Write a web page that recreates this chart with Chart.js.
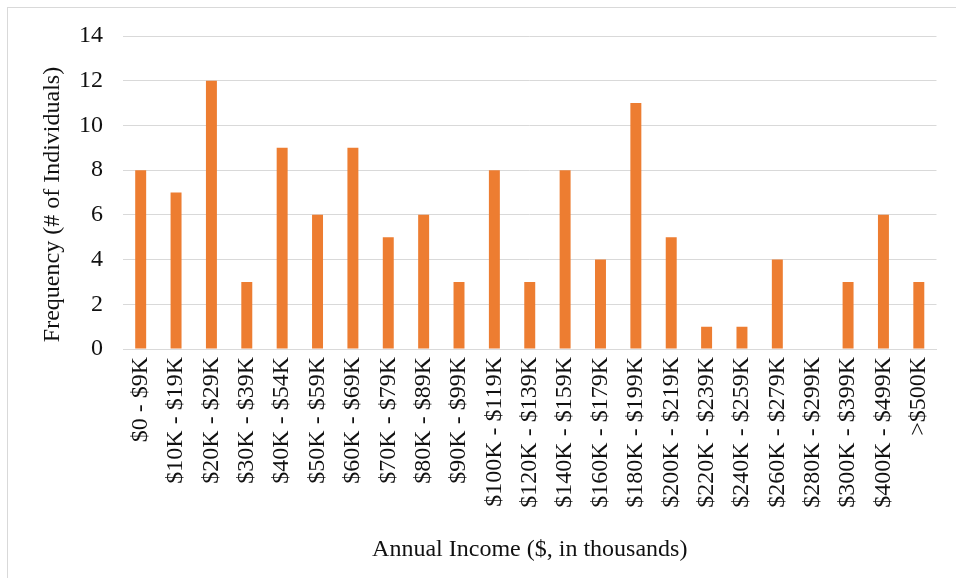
<!DOCTYPE html>
<html>
<head>
<meta charset="utf-8">
<script src="https://cdn.jsdelivr.net/npm/chart.js@4"></script>
<style>
  html, body { margin: 0; padding: 0; background: #fff; }
  #wrap { position: relative; width: 956px; height: 578px; overflow: hidden; }
  #frame { position: absolute; left: 7px; top: 7px; width: 960px; height: 600px; border: 1px solid #d9d9d9; box-sizing: border-box; }
  canvas { position: absolute; left: 0; top: 0; }
</style>
</head>
<body>
<div id="wrap">
  <div id="frame"></div>
  <canvas id="incomeChart" width="956" height="578"></canvas>
</div>
<script>
const incomeBrackets = [
  '$0 - $9K', '$10K - $19K', '$20K - $29K', '$30K - $39K', '$40K - $54K',
  '$50K - $59K', '$60K - $69K', '$70K - $79K', '$80K - $89K', '$90K - $99K',
  '$100K - $119K', '$120K - $139K', '$140K - $159K', '$160K - $179K', '$180K - $199K',
  '$200K - $219K', '$220K - $239K', '$240K - $259K', '$260K - $279K', '$280K - $299K',
  '$300K - $399K', '$400K - $499K', '>$500K'
];
const frequencies = [8, 7, 12, 3, 9, 6, 9, 5, 6, 3, 8, 3, 8, 4, 11, 5, 1, 1, 4, 0, 3, 6, 3];

const serif = '"Liberation Serif", "Times New Roman", serif';

new Chart(document.getElementById('incomeChart'), {
    type: 'bar',
    data: {
        labels: incomeBrackets,
        datasets: [{
            data: frequencies,
            backgroundColor: '#ed7d31',
            borderWidth: 0,
            barPercentage: 0.31,
            categoryPercentage: 1
        }]
    },
    options: {
        responsive: false,
        animation: false,
        layout: {
            padding: { top: 36, right: 18, left: 0, bottom: 0 }
        },
        plugins: {
            legend: { display: false },
            tooltip: { enabled: false }
        },
        scales: {
            x: {
                grid: { display: false, drawTicks: false },
                border: { color: '#d9d9d9', width: 1 },
                ticks: {
                    color: '#111',
                    font: { family: serif, size: 24 },
                    maxRotation: 90,
                    minRotation: 90,
                    autoSkip: false,
                    padding: 8
                },
                title: {
                    display: true,
                    text: 'Annual Income ($, in thousands)',
                    color: '#111',
                    font: { family: serif, size: 24 },
                    padding: { top: 0, bottom: 14 }
                },
                // fixed band height keeps the zero line at the same place
                afterFit: (scale) => { scale.height = 229; }
            },
            y: {
                min: 0,
                max: 14,
                grid: { color: '#d9d9d9', drawTicks: false },
                border: { display: false },
                ticks: {
                    stepSize: 2,
                    color: '#111',
                    font: { family: serif, size: 24 },
                    padding: 20
                },
                title: {
                    display: true,
                    // trailing spaces nudge the rotated title a bit lower
                    text: 'Frequency (# of Individuals)    ',
                    color: '#111',
                    font: { family: serif, size: 24 },
                    padding: { top: 38, bottom: 0 }
                },
                afterFit: (scale) => { scale.width = 123; }
            }
        }
    }
});
</script>
</body>
</html>
